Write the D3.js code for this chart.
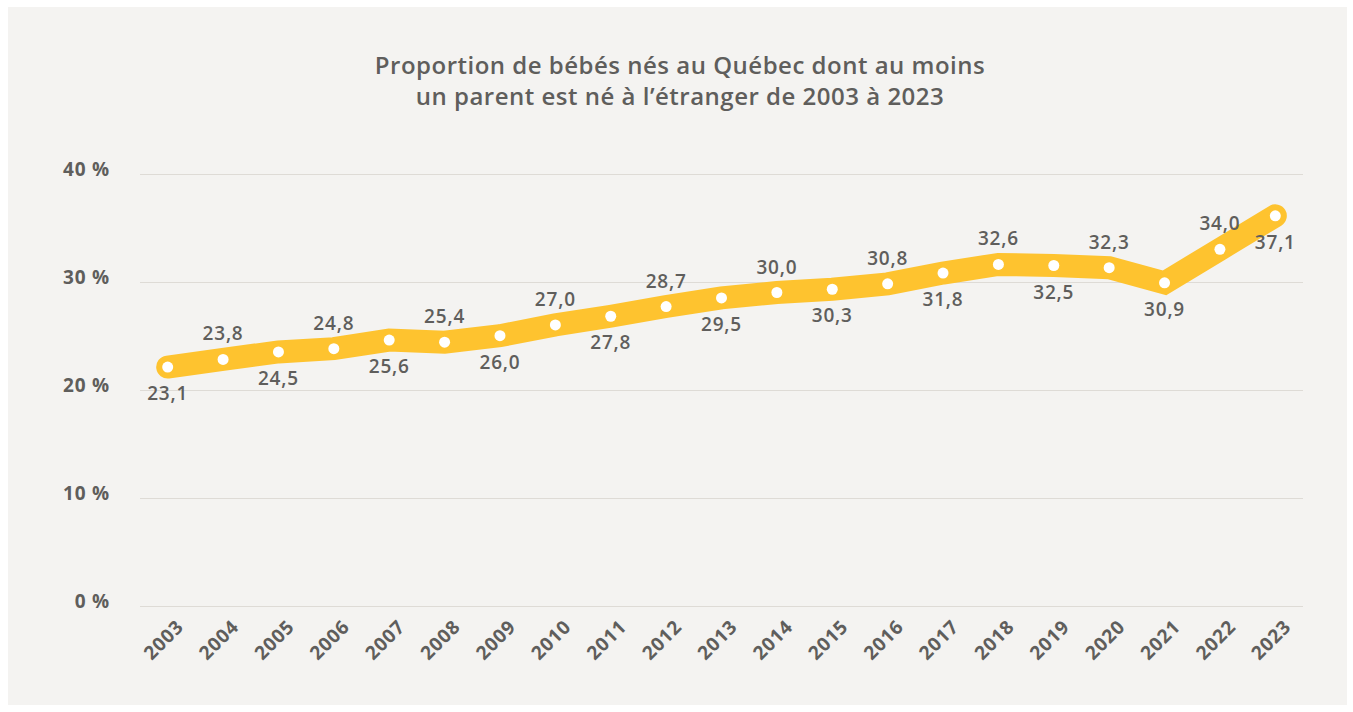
<!DOCTYPE html>
<html>
<head>
<meta charset="utf-8">
<script src="https://cdn.jsdelivr.net/npm/d3@7"></script>
<style>
  body { margin: 0; background: #fff; }
  svg text { font-family: "Open Sans", sans-serif; fill: #5f5e5c; }
</style>
</head>
<body>
<svg id="chart" width="1353" height="712"></svg>
<script>
const years = ['2003', '2004', '2005', '2006', '2007', '2008', '2009', '2010', '2011', '2012', '2013',
  '2014', '2015', '2016', '2017', '2018', '2019', '2020', '2021', '2022', '2023']
const shares = [23.1, 23.8, 24.5, 24.8, 25.6, 25.4, 26.0, 27.0, 27.8, 28.7, 29.5,
  30.0, 30.3, 30.8, 31.8, 32.6, 32.5, 32.3, 30.9, 34.0, 37.1]
const yTicks = [0, 10, 20, 30, 40]
const titleLines = [
  'Proportion de bébés nés au Québec dont au moins',
  'un parent est né à l’étranger de 2003 à 2023'
]

const svg = d3.select('#chart')
const margin = { left: 140, right: 1303, top: 174.5, bottom: 606.5 }

svg.append('rect')
  .attr('x', 8).attr('y', 7)
  .attr('width', 1339).attr('height', 698)
  .attr('fill', '#f4f3f1')

svg.append('g')
  .selectAll('text')
  .data(titleLines)
  .enter()
  .append('text')
  .attr('x', 680)
  .attr('y', function (d, i) { return 73.5 + i * 31.5 })
  .attr('text-anchor', 'middle')
  .style('font-size', '24px')
  .style('font-weight', 600)
  .style('letter-spacing', '0.5px')
  .text(function (d) { return d })

const x = d3.scaleBand()
  .domain(years)
  .range([margin.left, margin.right])

const y = d3.scaleLinear()
  .domain([0, 40])
  .range([margin.bottom, margin.top])

// the series layer in the source sits ~10px below the gridlines
const yLine = d3.scaleLinear()
  .domain([0, 40])
  .range([margin.bottom + 10, margin.top + 10])

const cx = function (d, i) { return x(years[i]) + x.bandwidth() / 2 }

// gridlines
svg.append('g')
  .selectAll('line')
  .data(yTicks)
  .enter()
  .append('line')
  .attr('x1', margin.left)
  .attr('x2', margin.right)
  .attr('y1', function (d) { return y(d) })
  .attr('y2', function (d) { return y(d) })
  .attr('stroke', '#dedbd6')
  .attr('stroke-width', 1.2)

svg.append('g')
  .selectAll('text')
  .data(yTicks)
  .enter()
  .append('text')
  .attr('x', 110)
  .attr('y', function (d) { return y(d) + 1 })
  .attr('text-anchor', 'end')
  .style('font-size', '19px')
  .style('font-weight', 700)
  .style('letter-spacing', '0.8px')
  .text(function (d) { return d + ' %' })

// year labels
svg.append('g')
  .selectAll('text')
  .data(years)
  .enter()
  .append('text')
  .attr('transform', function (d) {
    return 'translate(' + (x(d) + x.bandwidth() / 2 + 17) + ',' + 628 + ') rotate(-45)'
  })
  .attr('text-anchor', 'end')
  .style('font-size', '19px')
  .style('font-weight', 700)
  .style('letter-spacing', '0.8px')
  .text(function (d) { return d })

// series
const line = d3.line()
  .x(cx)
  .y(function (d) { return yLine(d) })

svg.append('path')
  .datum(shares)
  .attr('d', line)
  .attr('fill', 'none')
  .attr('stroke', '#fec32f')
  .attr('stroke-width', 23)
  .attr('stroke-linecap', 'round')
  .attr('stroke-linejoin', 'miter')

svg.append('g')
  .selectAll('circle')
  .data(shares)
  .enter()
  .append('circle')
  .attr('cx', cx)
  .attr('cy', function (d) { return yLine(d) })
  .attr('r', 5.5)
  .attr('fill', '#ffffff')

svg.append('g')
  .selectAll('text')
  .data(shares)
  .enter()
  .append('text')
  .attr('x', cx)
  .attr('y', function (d, i) { return yLine(d) + (i % 2 === 0 ? 33 : -19) })
  .attr('text-anchor', 'middle')
  .style('font-size', '19px')
  .style('font-weight', 600)
  .style('letter-spacing', '0.8px')
  .text(function (d) { return d.toFixed(1).replace('.', ',') })
</script>
</body>
</html>
